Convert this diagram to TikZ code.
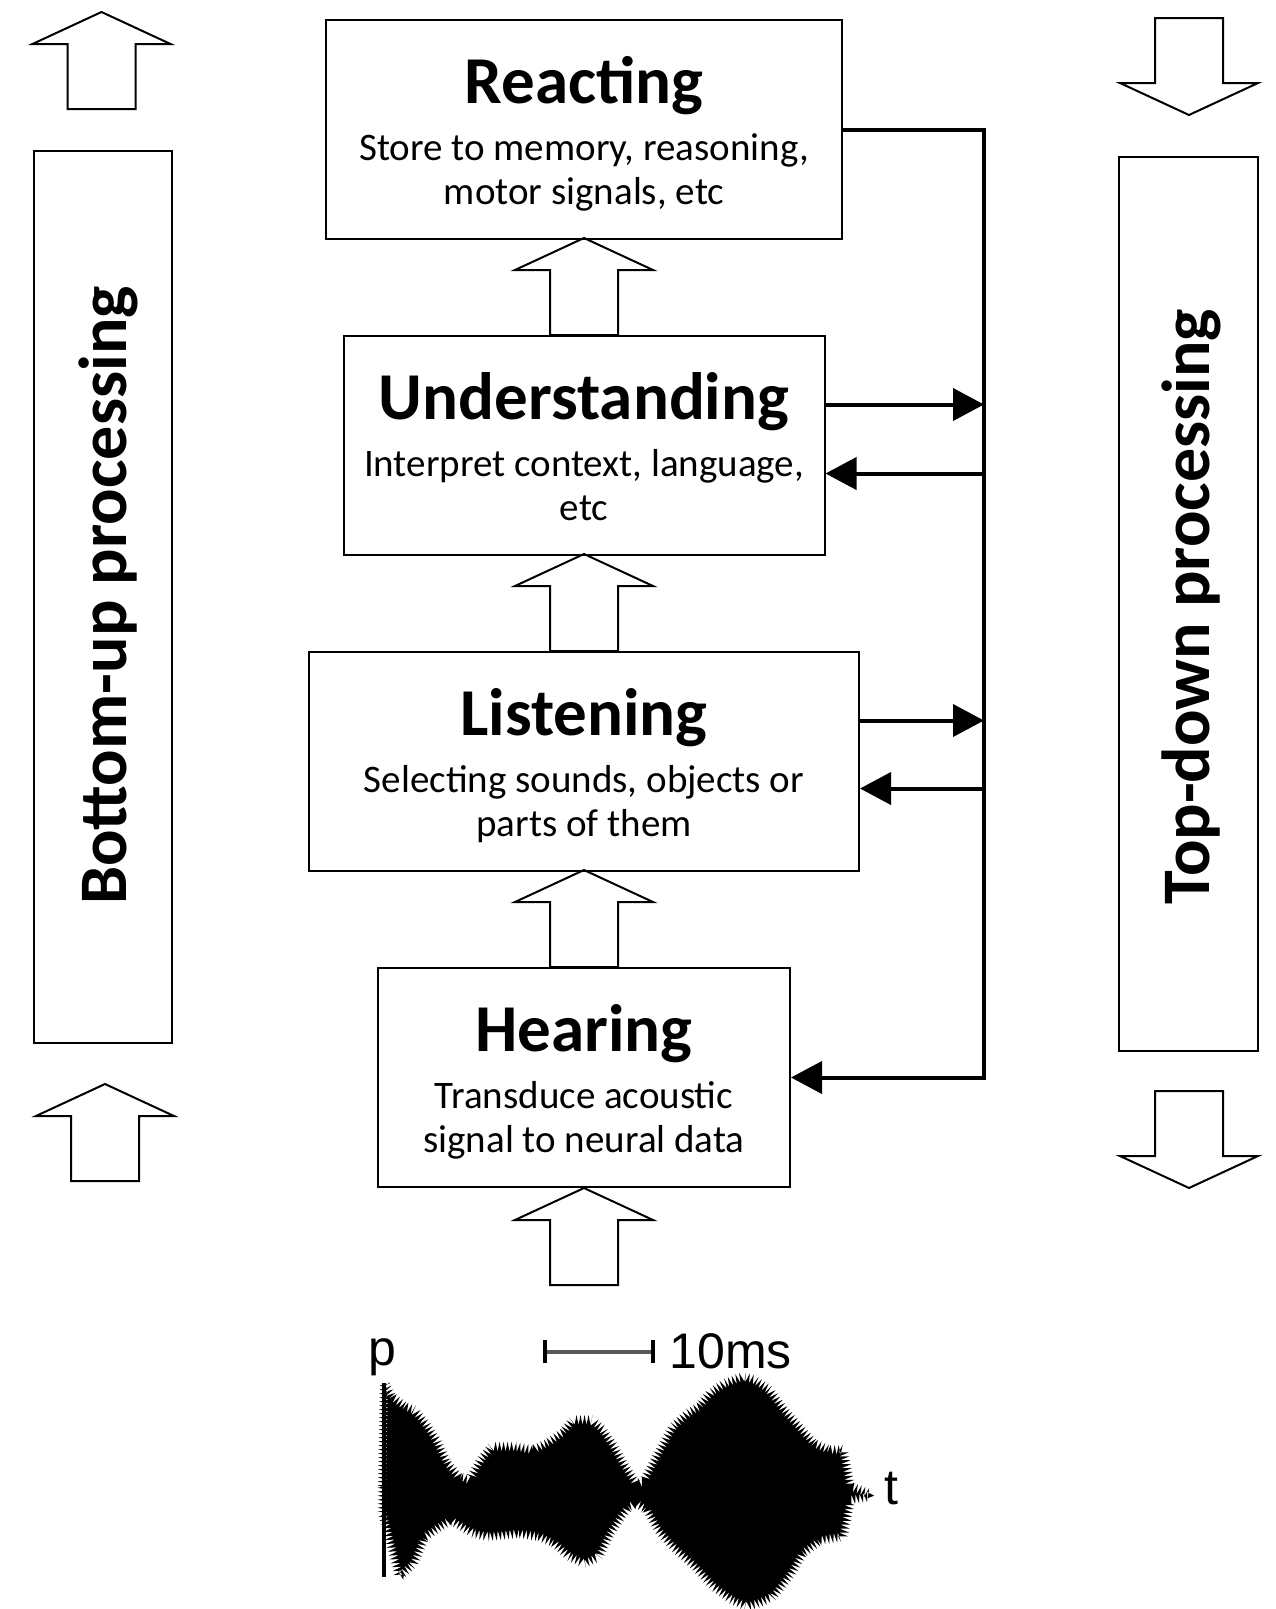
\documentclass[tikz,border=0pt]{standalone}
\usepackage{fontspec}
\setmainfont{Carlito}
\newfontfamily\wavefont{Liberation Sans}
\usetikzlibrary{positioning,calc,arrows.meta,decorations.pathmorphing}

\tikzset{
  stage/.style={draw, line width=2pt, minimum height=219pt, inner sep=0pt},
  heading/.style={font=\fontsize{67}{67}\selectfont\bfseries, inner sep=0pt, anchor=base},
  detail/.style={font=\fontsize{39}{44}\selectfont, align=center, inner sep=0pt, anchor=base},
  sidebox/.style={draw, line width=2pt, inner sep=0pt},
  sidelabel/.style={font=\fontsize{68}{68}\selectfont\bfseries, inner sep=0pt, rotate=90, anchor=base west},
  feedback/.style={line width=4pt, line join=miter},
  fbarrow/.style={feedback, -{Triangle[length=31pt,width=32pt]}},
  wavetext/.style={font=\wavefont\fontsize{50}{50}\selectfont, inner sep=0pt},
  blockarrow/.pic={
    \draw[line width=2pt, line join=miter]
      (-34,0) -- (-34,-65) -- (-69,-65) -- (0,-97) -- (69,-65) -- (34,-65) -- (34,0) -- cycle;
  }
}

\begin{document}
\begin{tikzpicture}[x=1pt, y=-1pt, node distance=95pt]
  \useasboundingbox (0,0) rectangle (1276,1609);

  % stages
  \node (react) [stage, minimum width=516pt] at (584,129.5) {};
  \node (und) [stage, minimum width=481pt, below=of react] {};
  \node (list) [stage, minimum width=550pt, below=of und] {};
  \node (hear) [stage, minimum width=412pt, below=of list] {};

  % last line of each detail text sits on the base anchor
  \node (react title) [heading] at ($(react.north)+(0,84)$) {Reacting};
  \node (react text) [detail] at ($(react.north)+(0,185.5)$) {Store to memory, reasoning,\\motor signals, etc};
  \node (und title) [heading] at ($(und.north)+(0,84)$) {Understanding};
  \node (und text) [detail] at ($(und.north)+(0,185.5)$) {Interpret context, language,\\etc};
  \node (list title) [heading] at ($(list.north)+(0,84)$) {Listening};
  \node (list text) [detail] at ($(list.north)+(0,185.5)$) {Selecting sounds, objects or\\parts of them};
  \node (hear title) [heading] at ($(hear.north)+(0,84)$) {Hearing};
  \node (hear text) [detail] at ($(hear.north)+(0,185.5)$) {Transduce acoustic\\signal to neural data};

  % upward block arrows
  \pic at (und.north) {blockarrow};
  \pic at (list.north) {blockarrow};
  \pic at (hear.north) {blockarrow};
  \pic at ($(hear.south)+(0,97)$) {blockarrow};

  % feedback loop
  \coordinate (bus) at ($(react.east)+(141,0)$);
  \coordinate (und out) at ($(und.east)+(0,-41)$);
  \coordinate (und in) at ($(und.east)+(0,28)$);
  \coordinate (list out) at ($(list.east)+(0,-41)$);
  \coordinate (list in) at ($(list.east)+(0,27)$);
  \draw[fbarrow] (react.east) -| (bus |- hear.east) -- (hear.east);
  \draw[fbarrow] (und out) -- (und out -| bus);
  \draw[fbarrow] (und in -| bus) -- (und in);
  \draw[fbarrow] (list out) -- (list out -| bus);
  \draw[fbarrow] (list in -| bus) -- (list in);

  % side columns
  \node (bottom up) [sidebox, minimum width=138pt, minimum height=892pt] at (103,597) {};
  \node (top down) [sidebox, minimum width=139pt, minimum height=894pt] at (1188.5,604) {};
  \node (bottom up label) [sidelabel] at (126,905) {Bottom-up processing};
  \node (top down label) [sidelabel] at (1209,905) {Top-down processing};
  \pic at (101.5,109) {blockarrow};
  \pic at (105,1181) {blockarrow};
  \pic[rotate=180] at (1189,18) {blockarrow};
  \pic[rotate=180] at (1189,1091) {blockarrow};

  % sound pressure wave
  \begin{scope}[shift={(340,1300)}, x=0.37pt, y=-0.3333pt]
    \fill[decorate, decoration={zigzag, segment length=4pt, amplitude=5pt}]
      (115,560) -- (120,250) -- (140,290) -- (175,320) -- (200,330) -- (230,370)
      -- (260,420) -- (290,490) -- (320,530) -- (350,540) -- (380,480) -- (410,440)
      -- (470,440) -- (520,450) -- (560,430) -- (600,400) -- (630,360) -- (680,360)
      -- (710,390) -- (740,440) -- (770,500) -- (800,550) -- (820,545) -- (860,460)
      -- (900,380) -- (940,340) -- (970,320) -- (1000,280) -- (1040,250) -- (1090,230)
      -- (1120,240) -- (1160,270) -- (1200,330) -- (1240,380) -- (1280,430) -- (1320,450)
      -- (1360,450) -- (1380,560) -- (1430,580) -- (1430,590) -- (1380,600) -- (1360,710)
      -- (1300,720) -- (1250,760) -- (1220,820) -- (1170,890) -- (1130,910) -- (1100,920)
      -- (1060,900) -- (1010,860) -- (960,800) -- (900,740) -- (860,690) -- (830,630)
      -- (800,610) -- (780,620) -- (760,650) -- (730,700) -- (700,770) -- (660,790)
      -- (620,770) -- (580,730) -- (540,710) -- (480,700) -- (400,710) -- (360,700)
      -- (300,660) -- (270,680) -- (230,710) -- (200,790) -- (160,830) -- (130,700)
      -- (115,640) -- cycle;
    \draw[line width=4pt] (120,250) -- (120,830);
    \node (pressure) [wavetext, anchor=base] at (115,195) {p};
    \node (time) [wavetext, anchor=base] at (1490,615) {t};
    \coordinate (bar left) at (555,155);
    \coordinate (bar right) at (845,155);
    \draw[line width=4pt, black!65] (bar left) -- (bar right);
    \draw[line width=4pt] ($(bar left)+(0,-35)$) -- ($(bar left)+(0,35)$);
    \draw[line width=4pt] ($(bar right)+(0,-35)$) -- ($(bar right)+(0,35)$);
    \node (scale) [wavetext, anchor=base west] at (890,205) {10ms};
  \end{scope}
\end{tikzpicture}
\end{document}
